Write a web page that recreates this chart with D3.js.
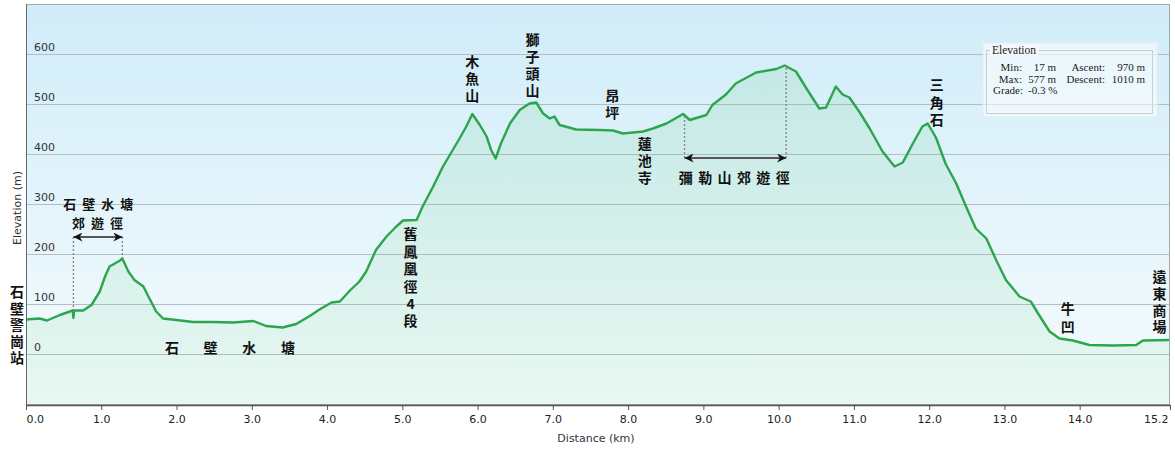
<!DOCTYPE html>
<html>
<head>
<meta charset="utf-8">
<script src="https://cdn.jsdelivr.net/npm/d3@7/dist/d3.min.js"></script>
<style>
  html, body { margin: 0; padding: 0; background: #ffffff; }
  svg { display: block; }
</style>
</head>
<body>
<svg id="chart" width="1175" height="451"></svg>
<script>
// ---------------- DATA ----------------
const distanceKm = [0.00, 0.18, 0.28, 0.45, 0.62, 0.63, 0.64, 0.76, 0.87, 0.98, 1.05, 1.11, 1.25, 1.28, 1.36, 1.44, 1.56, 1.64, 1.73, 1.82, 2.00, 2.22, 2.48, 2.75, 3.02, 3.19, 3.41, 3.59, 3.77, 3.90, 4.06, 4.17, 4.31, 4.43, 4.52, 4.65, 4.79, 4.92, 5.01, 5.19, 5.27, 5.41, 5.54, 5.67, 5.76, 5.85, 5.93, 6.03, 6.12, 6.18, 6.24, 6.31, 6.43, 6.56, 6.69, 6.78, 6.87, 6.96, 7.02, 7.09, 7.31, 7.62, 7.80, 7.93, 8.20, 8.33, 8.51, 8.73, 8.82, 9.04, 9.12, 9.30, 9.43, 9.70, 9.97, 10.08, 10.23, 10.37, 10.54, 10.63, 10.76, 10.85, 10.94, 11.07, 11.21, 11.38, 11.54, 11.65, 11.78, 11.91, 11.98, 12.09, 12.22, 12.36, 12.49, 12.62, 12.76, 12.89, 13.02, 13.20, 13.35, 13.46, 13.60, 13.73, 13.91, 14.13, 14.44, 14.75, 14.84, 15.20];
const elevationM = [69, 71, 67, 78, 87, 72, 87, 87, 98, 125, 155, 175, 187, 191, 165, 148, 135, 111, 85, 71, 68, 64, 64, 63, 66, 56, 53, 60, 76, 89, 103, 105, 128, 145, 165, 208, 235, 255, 267, 268, 295, 335, 375, 408, 431, 455, 480, 458, 435, 408, 391, 421, 461, 488, 501, 503, 481, 471, 475, 458, 449, 448, 447, 441, 445, 451, 461, 480, 468, 478, 498, 519, 541, 563, 570, 577, 565, 531, 491, 493, 535, 519, 513, 485, 451, 405, 375, 383, 420, 455, 461, 433, 380, 341, 295, 251, 231, 188, 148, 115, 105, 78, 45, 31, 27, 18, 17, 18, 27, 28];

const yTickValues = [0, 100, 200, 300, 400, 500, 600];
const xTickValues = [0, 1, 2, 3, 4, 5, 6, 7, 8, 9, 10, 11, 12, 13, 14, 15.2];
const xTickLabels = ["0.0", "1.0", "2.0", "3.0", "4.0", "5.0", "6.0", "7.0", "8.0", "9.0", "10.0", "11.0", "12.0", "13.0", "14.0", "15.2"];

const statLabels = ["Min:", "Max:", "Ascent:", "Descent:", "Grade:"];
const statValues = ["17 m", "577 m", "970 m", "1010 m", "-0.3 %"];

// vertical place labels: text, distance (km), elevation (m) of first character
const verticalLabels = [
  { text: "石壁警崗站", km: -0.12, elev: 124, step: 16.5 },
  { text: "舊鳳凰徑4段", km: 5.11, elev: 240, step: 17.4 },
  { text: "木魚山", km: 5.93, elev: 584, step: 17 },
  { text: "獅子頭山", km: 6.73, elev: 628, step: 17 },
  { text: "昂坪", km: 7.79, elev: 516, step: 17 },
  { text: "蓮池寺", km: 8.22, elev: 420, step: 17 },
  { text: "三角石", km: 12.10, elev: 538, step: 17.5 },
  { text: "牛凹", km: 13.84, elev: 90, step: 18 },
  { text: "遠東商場", km: 15.06, elev: 154, step: 16.7 }
];
// horizontal labels: text, centre distance (km), elevation (m)
const horizontalLabels = [
  { text: "石壁水塘", km: 0.96, elev: 302, gap: 19, size: 13 },
  { text: "郊遊徑", km: 0.95, elev: 264, gap: 19, size: 13 },
  { text: "石壁水塘", km: 2.71, elev: 14, gap: 38.7, size: 14 },
  { text: "彌勒山郊遊徑", km: 9.41, elev: 354, gap: 19.4, size: 14 }
];
// trail arrows: start km, end km, arrow elevation
const trailArrows = [
  { from: 0.63, to: 1.28, elev: 234, fromTop: 87, toTop: 191 },
  { from: 8.75, to: 10.10, elev: 392, fromTop: 480, toTop: 577 }
];

// ---------------- CHART ----------------
const svg = d3.select("#chart");
const x = d3.scaleLinear().domain([0, 15.2]).range([26, 1170]);
const y = d3.scaleLinear().domain([-100, 700]).range([404, 4]);

const defs = svg.append("defs");
const bg = defs.append("linearGradient").attr("id", "bg").attr("x1", 0).attr("y1", 0).attr("x2", 0).attr("y2", 1);
bg.append("stop").attr("offset", "0%").attr("stop-color", "#d0ecf9");
bg.append("stop").attr("offset", "100%").attr("stop-color", "#f6fcfd");
const ag = defs.append("linearGradient").attr("id", "ag").attr("x1", 0).attr("y1", 0).attr("x2", 0).attr("y2", 1);
ag.append("stop").attr("offset", "0%").attr("stop-color", "#5cc878").attr("stop-opacity", 0.15);
ag.append("stop").attr("offset", "100%").attr("stop-color", "#5cc878").attr("stop-opacity", 0.09);

const marker = defs.append("marker").attr("id", "ah").attr("viewBox", "0 0 10 10")
  .attr("refX", 10).attr("refY", 5).attr("markerWidth", 12).attr("markerHeight", 9)
  .attr("markerUnits", "userSpaceOnUse").attr("orient", "auto-start-reverse");
marker.append("path").attr("d", "M0,0 L10,5 L0,10 L3,5 Z").attr("fill", "#111");

const [x0, x1] = x.range();
const [yb, yt] = y.range();

svg.append("rect").attr("x", x0).attr("y", yt).attr("width", x1 - x0).attr("height", yb - yt)
  .attr("fill", "url(#bg)");

// grid
svg.append("g").selectAll("line").data(yTickValues).join("line")
  .attr("x1", x0).attr("x2", x1).attr("y1", d => y(d) + 0.5).attr("y2", d => y(d) + 0.5)
  .attr("stroke", "#b4bcc4").attr("stroke-width", 1);

const pts = distanceKm.map((d, i) => [d, elevationM[i]]);
svg.append("path").datum(pts)
  .attr("d", d3.area().x(d => x(d[0])).y0(yb).y1(d => y(d[1])))
  .attr("fill", "url(#ag)");
svg.append("path").datum(pts)
  .attr("d", d3.line().x(d => x(d[0])).y(d => y(d[1])))
  .attr("fill", "none").attr("stroke", "#2ca64c").attr("stroke-width", 2.4)
  .attr("stroke-linejoin", "round");

// y labels inside plot
svg.append("g").selectAll("text").data(yTickValues).join("text")
  .attr("x", 34).attr("y", d => y(d) - 3)
  .attr("font-family", "DejaVu Sans, Verdana, sans-serif").attr("font-size", 11).attr("fill", "#333")
  .text(d => d);

// frame
svg.append("rect").attr("x", x0 + 0.5).attr("y", yt + 0.5).attr("width", x1 - x0 - 1).attr("height", yb - yt)
  .attr("fill", "none").attr("stroke", "#a0a8b0");
svg.append("line").attr("x1", x0 + 0.5).attr("x2", x0 + 0.5).attr("y1", yt).attr("y2", yb + 1)
  .attr("stroke", "#666");

// x axis
const xAxis = d3.axisBottom(x).tickValues(xTickValues).tickSize(5).tickSizeOuter(0)
  .tickFormat((d, i) => xTickLabels[i]);
const gx = svg.append("g").attr("transform", `translate(0,${yb + 1})`).call(xAxis);
gx.select(".domain").attr("stroke", "#555").attr("stroke-width", 1.5);
gx.selectAll(".tick line").attr("stroke", "#555");
gx.selectAll(".tick text").attr("font-family", "DejaVu Sans, Verdana, sans-serif")
  .attr("font-size", 11).attr("fill", "#222").attr("dy", "0.9em");
gx.selectAll(".tick text").filter((d, i) => i === 0).attr("text-anchor", "start");
gx.selectAll(".tick text").filter((d, i) => i === xTickValues.length - 1).attr("text-anchor", "end").attr("dx", -2);

svg.append("text").attr("x", 596).attr("y", 442).attr("text-anchor", "middle")
  .attr("font-family", "DejaVu Sans, Verdana, sans-serif").attr("font-size", 11).attr("fill", "#333")
  .text("Distance  (km)");
svg.append("text").attr("transform", "translate(21,208) rotate(-90)").attr("text-anchor", "middle")
  .attr("font-family", "DejaVu Sans, Verdana, sans-serif").attr("font-size", 11).attr("fill", "#333")
  .text("Elevation (m)");

// trail arrows and dotted guides
const ga = svg.append("g");
trailArrows.forEach(a => {
  ga.append("line").attr("x1", x(a.from)).attr("x2", x(a.from)).attr("y1", y(a.elev)).attr("y2", y(a.fromTop))
    .attr("stroke", "#888").attr("stroke-width", 1.4).attr("stroke-dasharray", "2,2");
  ga.append("line").attr("x1", x(a.to)).attr("x2", x(a.to)).attr("y1", y(a.elev)).attr("y2", y(a.toTop))
    .attr("stroke", "#888").attr("stroke-width", 1.4).attr("stroke-dasharray", "2,2");
  ga.append("line").attr("x1", x(a.from)).attr("x2", x(a.to)).attr("y1", y(a.elev)).attr("y2", y(a.elev))
    .attr("stroke", "#555").attr("stroke-width", 2.2)
    .attr("marker-start", "url(#ah)").attr("marker-end", "url(#ah)");
});

// CJK labels, one text per character
const cjk = "Noto Sans CJK TC, Noto Sans CJK SC, sans-serif";
const gl = svg.append("g").attr("font-family", cjk).attr("font-size", 14).attr("font-weight", "bold").attr("fill", "#111");
verticalLabels.forEach(l => {
  Array.from(l.text).forEach((ch, i) => {
    gl.append("text").attr("x", x(l.km)).attr("y", y(l.elev) + i * l.step)
      .attr("text-anchor", "middle")
      .style("writing-mode", "vertical-rl")
      .style("text-orientation", "upright")
      .text(ch);
  });
});
horizontalLabels.forEach(l => {
  const chars = Array.from(l.text);
  const n = chars.length;
  chars.forEach((ch, i) => {
    gl.append("text").attr("x", x(l.km) + (i - (n - 1) / 2) * l.gap).attr("y", y(l.elev))
      .attr("font-size", l.size)
      .attr("text-anchor", "middle").attr("dominant-baseline", "central").text(ch);
  });
});

// stats box
const gs = svg.append("g").attr("font-family", "Liberation Serif, Times New Roman, serif").attr("font-size", 11).attr("fill", "#222");
gs.append("rect").attr("x", 983).attr("y", 43).attr("width", 174).attr("height", 74)
  .attr("fill", "#ffffff").attr("fill-opacity", 0.55).attr("stroke", "#e4eef2");
gs.append("rect").attr("x", 986.5).attr("y", 50.5).attr("width", 166).attr("height", 63)
  .attr("fill", "none").attr("stroke", "#c8d0d4");
gs.append("rect").attr("x", 990).attr("y", 45).attr("width", 49).attr("height", 10).attr("fill", "#f4f9fb");
gs.append("text").attr("x", 992).attr("y", 54).attr("font-size", 11.5).text("Elevation");
const rowY = [71, 82.5];
const rows = [
  [statLabels[0], statValues[0], statLabels[2], statValues[2]],
  [statLabels[1], statValues[1], statLabels[3], statValues[3]]
];
const colX = [1022, 1056, 1105, 1145];
rows.forEach((r, ri) => {
  r.forEach((s, ci) => gs.append("text").attr("x", colX[ci]).attr("y", rowY[ri]).attr("text-anchor", "end").text(s));
});
gs.append("text").attr("x", 1023).attr("y", 94).attr("text-anchor", "end").text(statLabels[4]);
gs.append("text").attr("x", 1028).attr("y", 94).text(statValues[4]);
</script>
</body>
</html>
